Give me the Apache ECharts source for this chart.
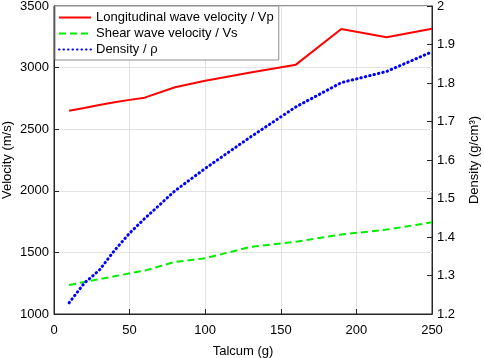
<!DOCTYPE html>
<html>
<head>
<meta charset="utf-8">
<script src="https://cdn.jsdelivr.net/npm/echarts@6/dist/echarts.min.js"></script>
<style>
  html, body { margin: 0; padding: 0; background: #fff; }
  #main { width: 484px; height: 358px; }
</style>
</head>
<body>
<div id="main"></div>
<script>
// talcum amount (g)
var talcum = [10, 20, 30, 40, 50, 60, 80, 100, 130, 160, 190, 220, 250];
// longitudinal wave velocity Vp (m/s)
var vp = [2650, 2672, 2697, 2718, 2738, 2756, 2840, 2893, 2960, 3024, 3313, 3246, 3316];
// shear wave velocity Vs (m/s)
var vs = [1235, 1260, 1282, 1306, 1330, 1352, 1423, 1452, 1545, 1587, 1645, 1685, 1744];
// density (g/cm3)
var density = [1.229, 1.28, 1.314, 1.365, 1.41, 1.448, 1.52, 1.578, 1.66, 1.738, 1.801, 1.83, 1.881];

function pairs(xs, ys) {
    var out = [];
    for (var i = 0; i < xs.length; i++) {
        out.push([xs[i], ys[i]]);
    }
    return out;
}

var font = 'Liberation Sans, Arial, sans-serif';
var axisColor = '#262626';
var fs = 13;

var chart = echarts.init(document.getElementById('main'));
chart.setOption({
    animation: false,
    textStyle: { fontFamily: font },
    grid: {
        left: 54, right: 52, top: 6, bottom: 44,
        outerBoundsMode: 'none',
        containLabel: false,
        show: true,
        borderColor: axisColor,
        borderWidth: 1,
        backgroundColor: '#fff'
    },
    legend: {
        orient: 'vertical',
        left: 55, top: 6,
        itemWidth: 32, itemHeight: 14, itemGap: 3,
        padding: [5, 5, 4, 3],
        borderColor: '#8c8c8c', borderWidth: 1,
        backgroundColor: '#fff',
        itemStyle: { opacity: 0 },
        textStyle: { fontFamily: font, fontSize: fs, color: '#000' },
        data: ['Longitudinal wave velocity / Vp', 'Shear wave velocity / Vs', 'Density / ρ']
    },
    xAxis: {
        type: 'value',
        min: 0, max: 250, interval: 50,
        name: 'Talcum (g)',
        nameLocation: 'middle',
        nameGap: 31,
        nameMoveOverlap: false,
        nameTextStyle: { fontSize: fs, color: '#000' },
        axisLine: { lineStyle: { color: axisColor } },
        axisTick: { inside: true, length: 5, lineStyle: { color: axisColor } },
        axisLabel: { fontSize: fs, color: '#000', margin: 10 },
        splitLine: { show: true, lineStyle: { color: '#e3e3e3' } }
    },
    yAxis: [
        {
            type: 'value',
            min: 1000, max: 3500, interval: 500,
            name: 'Velocity (m/s)',
            nameLocation: 'middle',
            nameGap: 40,
            nameMoveOverlap: false,
            nameTextStyle: { fontSize: fs, color: '#000' },
            axisLine: { show: true, lineStyle: { color: axisColor } },
            axisTick: { show: true, inside: true, length: 5, lineStyle: { color: axisColor } },
            axisLabel: {
                fontSize: fs, color: '#000', margin: 5,
                formatter: function (v) { return String(v); }
            },
            splitLine: { show: true, lineStyle: { color: '#e3e3e3' } }
        },
        {
            type: 'value',
            position: 'right',
            min: 1.2, max: 2, interval: 0.1,
            name: 'Density (g/cm³)',
            nameLocation: 'middle',
            nameGap: 36,
            nameRotate: 90,
            nameMoveOverlap: false,
            nameTextStyle: { fontSize: fs, color: '#000' },
            axisLine: { show: true, lineStyle: { color: axisColor } },
            axisTick: { show: true, inside: true, length: 5, lineStyle: { color: axisColor } },
            axisLabel: {
                fontSize: fs, color: '#000', margin: 5,
                formatter: function (v) { return +v.toFixed(1) + ''; }
            },
            splitLine: { show: false }
        }
    ],
    series: [
        {
            name: 'Longitudinal wave velocity / Vp',
            type: 'line',
            yAxisIndex: 0,
            symbol: 'none',
            data: pairs(talcum, vp),
            itemStyle: { color: '#ff0000' },
            lineStyle: { color: '#ff0000', width: 2 }
        },
        {
            name: 'Shear wave velocity / Vs',
            type: 'line',
            yAxisIndex: 0,
            symbol: 'none',
            data: pairs(talcum, vs),
            itemStyle: { color: '#00ee00' },
            lineStyle: { color: '#00ee00', width: 2, type: [7, 4] }
        },
        {
            name: 'Density / ρ',
            type: 'line',
            yAxisIndex: 1,
            symbol: 'none',
            data: pairs(talcum, density),
            itemStyle: { color: '#0000ff' },
            lineStyle: { color: '#0000ff', width: 3, type: [0.5, 4], cap: 'round' }
        }
    ]
});
</script>
</body>
</html>
